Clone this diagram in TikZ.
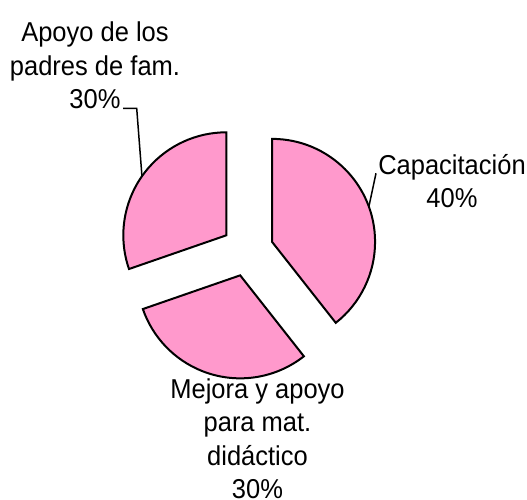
\documentclass[tikz,border=0pt]{standalone}
\usepackage{fontspec}
\setmainfont{Liberation Sans}
\usetikzlibrary{calc}
\definecolor{rosa}{HTML}{FF99CC}

\begin{document}
\begin{tikzpicture}[x=1pt,y=1pt,
    sector/.style={fill=rosa,draw=black,line width=2pt},
    guia/.style={line width=1.5pt},
    etiqueta/.style={align=center,inner sep=0pt,anchor=base,
      yscale=1.07,transform shape,
      font=\fontsize{25.5}{31.3}\selectfont}]
      \useasboundingbox (0,0) rectangle (527,500);

      \coordinate (O) at (247.5,249.6);
      \coordinate (A) at ($(O)+(19.1:26)$);
      \coordinate (B) at ($(O)+(-106.35:26)$);
      \coordinate (C) at ($(O)+(144.55:26)$);

      % SECTORES
      \draw[sector] (A) -- ++(90:103) arc (90:-51.8:103) -- cycle;
      \draw[sector] (B) -- ++(-51.8:103) arc (-51.8:-160.9:103) -- cycle;
      \draw[sector] (C) -- ++(199.1:103) arc (199.1:90:103) -- cycle;

      % ETIQUETAS
      \node[etiqueta] (capac) at (452,292.5) {Capacitación\\40\%};
      \node[etiqueta] (padres) at (95,391.3) {Apoyo de los\\padres de fam.\\30\%};
      \node[etiqueta] (mejora) at (257.5,1.5) {Mejora y apoyo\\para mat.\\didáctico\\30\%};

      % LINEAS GUIA
      \coordinate (P) at ($(A)+(20:103)$);
      \coordinate (Q) at (376,326.7);
      \coordinate (R) at ($(C)+(145:103)$);
      \coordinate (S) at (136.7,391.7);
      \coordinate (T) at (123,391.7);
      \draw[guia] (P) -- (Q);
      \draw[guia] (R) -- (S) -- (T);
\end{tikzpicture}
\end{document}
